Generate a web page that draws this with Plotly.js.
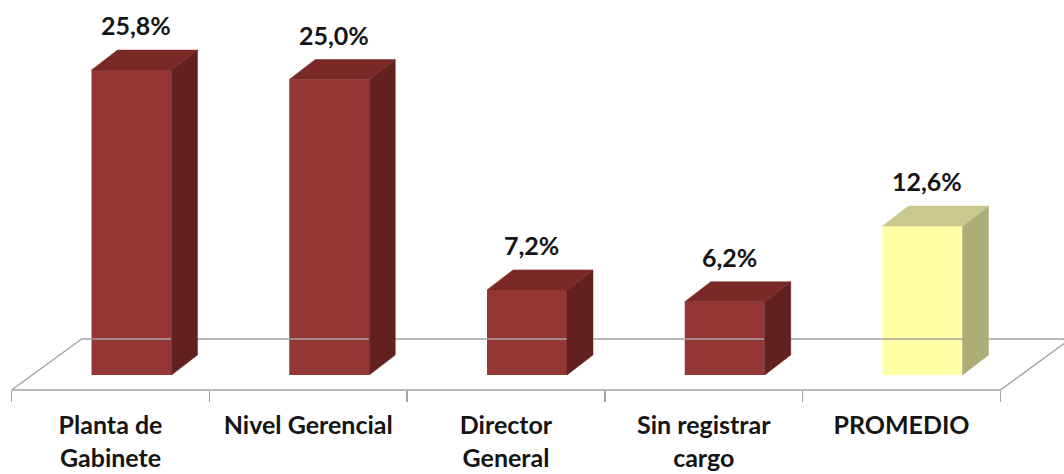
<!DOCTYPE html>
<html><head><meta charset="utf-8">
<script src="https://cdn.plot.ly/plotly-3.0.1.min.js"></script>
<style>html,body{margin:0;padding:0;background:#fff}#chart{width:1064px;height:474px}</style>
</head><body><div id="chart"></div>
<script>
// ---- data ----
const categories = ["Planta de Gabinete", "Nivel Gerencial", "Director General", "Sin registrar cargo", "PROMEDIO"];
const tickLabels = ["Planta de<br>Gabinete", "Nivel Gerencial", "Director<br>General", "Sin registrar<br>cargo", "PROMEDIO"];
const values = [25.8, 25.0, 7.2, 6.2, 12.6];
const isAverage = [false, false, false, false, true];

// ---- styling / geometry constants ----
const W = 1064, H = 474;
const PX = 197.75;          // pixels per category
const PY = 11.82;           // pixels per percentage point
const firstCatPx = 110.5;   // pixel x of first category on the front plane
const plotBottom = 414;     // pixel y of bottom of plot area
const baseY = 375;          // pixel y of bar base (value 0)
const floorFrontY = 390;    // pixel y of front floor edge

const xRange = [-firstCatPx / PX, (W - firstCatPx) / PX];
const yRange = [-(plotBottom - baseY) / PY, baseY / PY];

const barShift = 21 / PX, barW = 80 / PX;
const depthX = 26 / PX, depthY = 20 / PY;
const floorDX = 70 / PX, floorDY = 51 / PY;
const yFront = -(floorFrontY - baseY) / PY;

const colRed = {front: '#943634', side: '#62201f', top: '#7a2927'};
const colYel = {front: '#ffffa6', side: '#adad78', top: '#c9c88e'};
const font = {family: 'Lato, "Open Sans", sans-serif', size: 25, color: '#151515', weight: 700};

const traces = [];
// floor
const n = categories.length;
traces.push({
  type: 'scatter', mode: 'lines', xaxis: 'x2', yaxis: 'y', hoverinfo: 'skip', showlegend: false,
  x: [-0.5 + floorDX, -0.5, n - 0.5, n - 0.5 + floorDX, -0.5 + floorDX],
  y: [yFront + floorDY, yFront, yFront, yFront + floorDY, yFront + floorDY],
  line: {color: '#a3a3a3', width: 1.5}
});
// invisible trace to establish categories
traces.push({
  type: 'scatter', mode: 'markers', x: categories, y: values, xaxis: 'x', yaxis: 'y',
  marker: {opacity: 0}, hoverinfo: 'skip', showlegend: false
});
// 3D bars
values.forEach((v, i) => {
  const c = isAverage[i] ? colYel : colRed;
  const xl = i + barShift - barW / 2, xr = i + barShift + barW / 2;
  traces.push({
    type: 'scatter', mode: 'lines', fill: 'toself', xaxis: 'x2', yaxis: 'y', hoverinfo: 'skip', showlegend: false,
    x: [xr, xr + depthX, xr + depthX, xr, xr],
    y: [0, depthY, v + depthY, v, 0],
    fillcolor: c.side, line: {color: c.side, width: 0.5}
  });
  traces.push({
    type: 'scatter', mode: 'lines', fill: 'toself', xaxis: 'x2', yaxis: 'y', hoverinfo: 'skip', showlegend: false,
    x: [xl, xl + depthX, xr + depthX, xr, xl],
    y: [v, v + depthY, v + depthY, v, v],
    fillcolor: c.top, line: {color: c.top, width: 0.5}
  });
});
traces.push({
  type: 'bar', xaxis: 'x2', yaxis: 'y', hoverinfo: 'skip', showlegend: false,
  x: values.map((v, i) => i + barShift), y: values, width: barW,
  marker: {color: values.map((v, i) => isAverage[i] ? colYel.front : colRed.front), line: {width: 0}}
});

const annotations = values.map((v, i) => ({
  xref: 'x2', yref: 'y', x: i + 0.13, y: v + 3.8, showarrow: false,
  text: v.toFixed(1).replace('.', ',') + '%', font: font,
  xanchor: 'center', yanchor: 'middle'
}));

const layout = {
  width: W, height: H,
  margin: {l: 0, r: 0, t: 0, b: H - plotBottom, pad: 0},
  paper_bgcolor: '#ffffff', plot_bgcolor: 'rgba(0,0,0,0)',
  showlegend: false, hovermode: false, barmode: 'overlay',
  xaxis: {
    type: 'category', categoryarray: categories, categoryorder: 'array',
    tickvals: categories, ticktext: tickLabels,
    range: xRange, anchor: 'free', position: (plotBottom - floorFrontY) / plotBottom,
    tickson: 'boundaries', ticks: 'outside', ticklen: 11, tickcolor: '#a3a3a3', tickwidth: 1.5,
    ticklabelstandoff: 18,
    showline: false, showgrid: false, zeroline: false, tickfont: font, fixedrange: true
  },
  xaxis2: {
    type: 'linear', overlaying: 'x', range: xRange, visible: false, fixedrange: true
  },
  yaxis: {range: yRange, visible: false, fixedrange: true},
  annotations: annotations
};

Plotly.newPlot('chart', traces, layout, {staticPlot: true, displayModeBar: false});
</script>
</body></html>
